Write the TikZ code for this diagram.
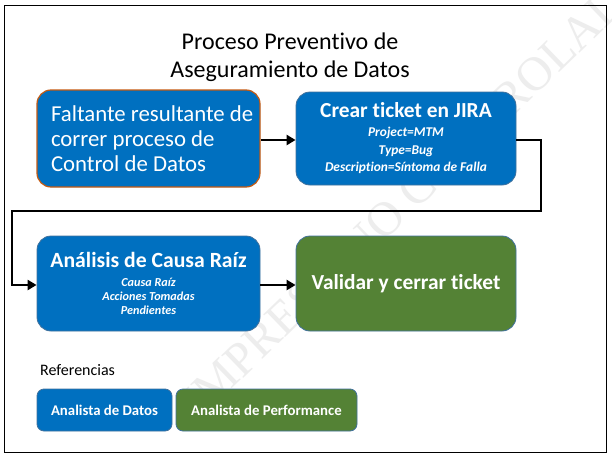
\documentclass[tikz,border=0pt]{standalone}
\usepackage{fontspec}
\setmainfont{Carlito}[Ligatures=NoCommon]
\newfontfamily\wmfont{Liberation Serif}
\usetikzlibrary{arrows.meta}
\definecolor{boxblue}{HTML}{0070C0}
\definecolor{boxgreen}{HTML}{548235}
\definecolor{edgeblue}{HTML}{41719C}
\definecolor{edgeorange}{HTML}{C55A11}
\tikzset{
  procbox/.style={rectangle, rounded corners=14pt, fill=boxblue, draw=edgeblue, line width=0.8pt, text=white, inner sep=0pt, align=center},
  greenbox/.style={procbox, fill=boxgreen},
  legbox/.style={rectangle, rounded corners=7pt, fill=boxblue, draw=edgeblue, line width=0.8pt, text=white, inner sep=0pt, minimum height=42pt, font=\fontsize{14.8}{17}\selectfont\bfseries},
  flow/.style={line width=2.6pt, -{Triangle[length=9pt,width=10pt]}},
}
\begin{document}
\begin{tikzpicture}[x=1pt,y=-1pt]
\useasboundingbox (0,0) rectangle (612,460);
\fill[white] (0,0) rectangle (612,460);
% watermark
\begin{scope}
\clip (0,0) rectangle (612,460);
\node[anchor=base west, rotate=44, text=black!7, inner sep=0pt, font=\wmfont\fontsize{48}{48}\selectfont] (wm) at (200,420) {IMPRESO NO CONTROLADO};
\end{scope}
% frame
\draw[line width=1pt] (4,6) rectangle (606,452);
% title
\node[align=center, font=\fontsize{24}{28}\selectfont] (title) at (290,57) {Proceso Preventivo de\\Aseguramiento de Datos};
% boxes
\node[procbox, draw=edgeorange, line width=1.2pt, minimum width=223pt, minimum height=97pt] (b1) at (148.5,138.5) {\parbox{219pt}{\raggedright\leftskip=12pt\fontsize{22.8}{25}\selectfont Faltante resultante de\\correr proceso de\\Control de Datos\par}};
\node[procbox, minimum width=220pt, minimum height=93pt] (b2) at (406,138.5) {\parbox{215pt}{\centering\fontsize{21.4}{24}\selectfont\bfseries Crear ticket en JIRA\\[1.5pt]\fontsize{13.4}{17.5}\selectfont\itshape Project=MTM\\Type=Bug\\Description=Síntoma de Falla\par}};
\node[procbox, minimum width=223pt, minimum height=95pt] (b3) at (148.5,283.5) {\parbox{215pt}{\centering\fontsize{21.7}{24}\selectfont\bfseries Análisis de Causa Raíz\\[5pt]\fontsize{12.2}{14}\selectfont\itshape Causa Raíz\\Acciones Tomadas\\Pendientes\par}};
\node[greenbox, minimum width=220pt, minimum height=95pt, font=\fontsize{21.4}{25}\selectfont\bfseries] (b4) at (406,283.5) {Validar y cerrar ticket};
% connectors
\coordinate (c1) at (541,140);
\coordinate (c2) at (541,211);
\coordinate (c3) at (12,211);
\coordinate (c4) at (12,285);
\draw[flow] (b1.east |- 0,140) -- (b2.west |- 0,140);
\draw[flow, line join=miter] (b2.east |- c1) -- (c1) -- (c2) -- (c3) -- (c4) -- (b3.west |- c4);
\draw[flow] (b3.east |- 0,285) -- (b4.west |- 0,285);
% legend
\node[anchor=base west, inner sep=0pt, font=\fontsize{16}{18}\selectfont] (ref) at (40,375) {Referencias};
\node[legbox, minimum width=135pt] (l1) at (104.5,410) {Analista de Datos};
\node[legbox, fill=boxgreen, minimum width=181pt] (l2) at (266.5,410) {Analista de Performance};
\end{tikzpicture}
\end{document}
